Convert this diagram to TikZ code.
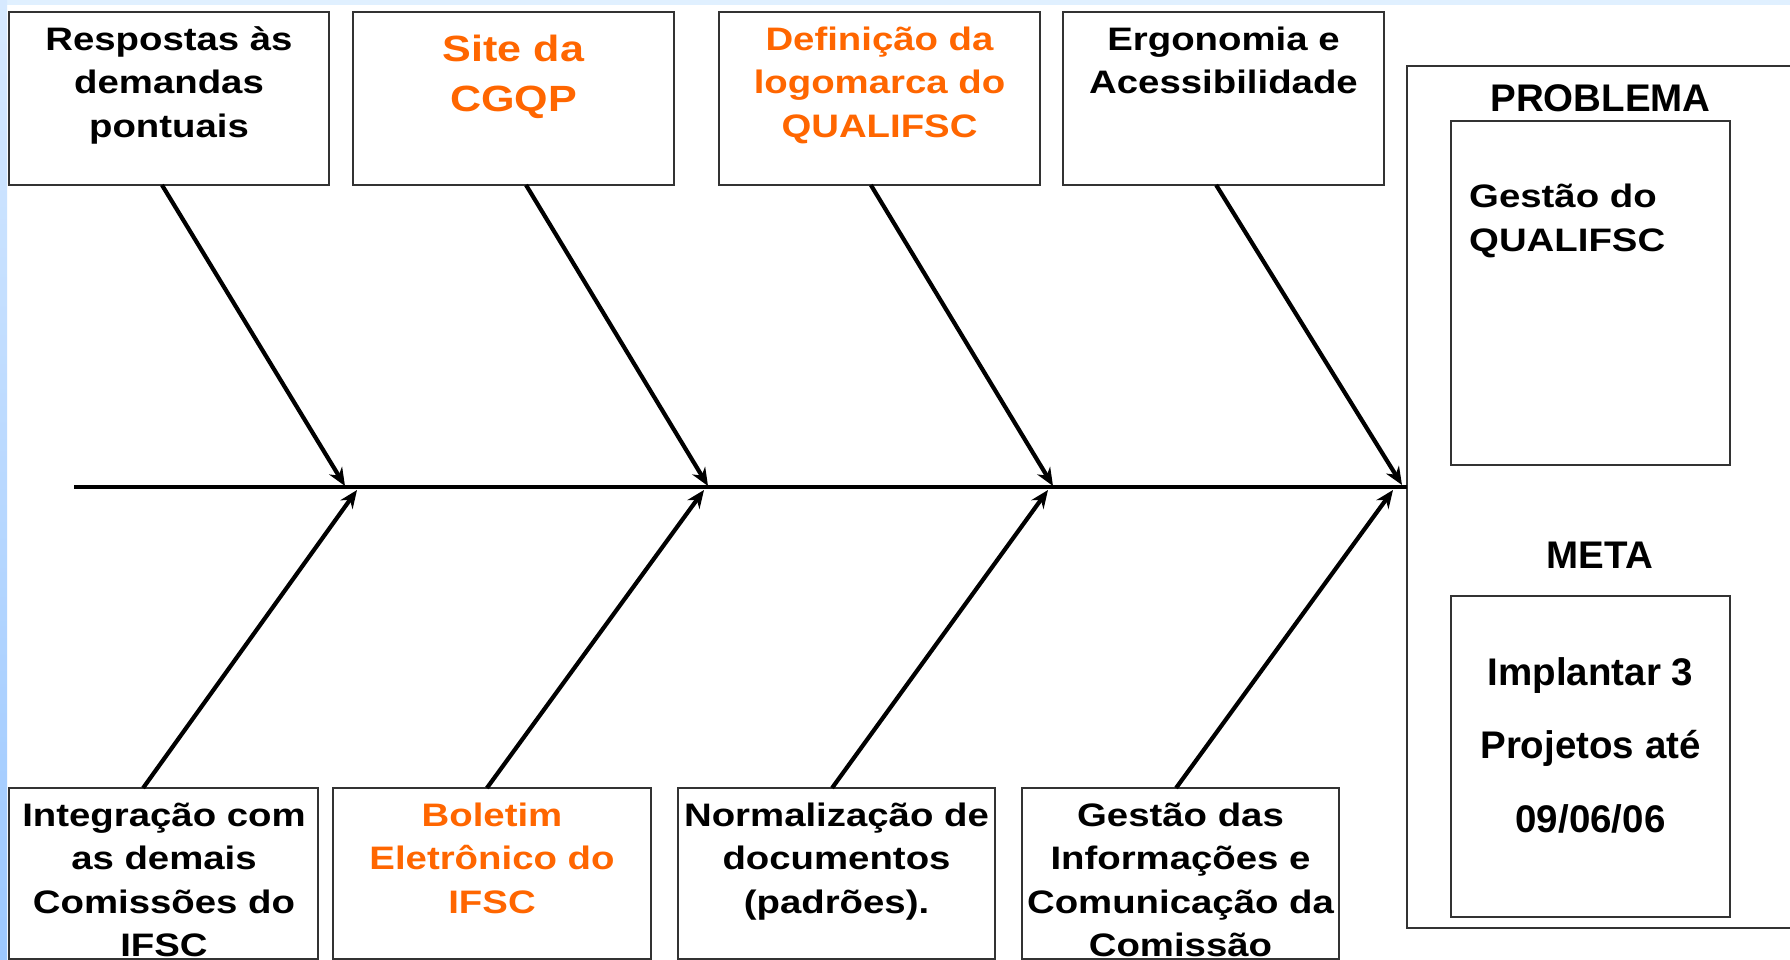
\documentclass[tikz,border=0pt]{standalone}
\usepackage{fontspec}
\setmainfont{Liberation Sans}
\newfontfamily\sfam{Liberation Sans}[FakeStretch=1.18]
\usetikzlibrary{calc,arrows.meta}
\definecolor{orng}{HTML}{FF6600}
\definecolor{edgec}{HTML}{333333}
\definecolor{topblue}{HTML}{E0F0FF}
\definecolor{sidetop}{HTML}{D6E9FF}
\definecolor{sidebot}{HTML}{9CC8FF}
\newcommand{\fstrut}{\rule{0pt}{0.85em}}
\begin{document}
\begin{tikzpicture}[x=1pt,y=-1pt,
  box/.style={draw=edgec, line width=2.5pt, fill=white, inner sep=0pt, outer sep=0pt, anchor=north west},
  txt/.style={font={\sfam\bfseries\fontsize{32.5}{43.5}\selectfont}, align=center, inner sep=0pt, anchor=north},
  bigtxt/.style={font={\sfam\bfseries\fontsize{36.5}{50}\selectfont}, align=center, inner sep=0pt, anchor=north, text=orng},
  lbl/.style={font={\bfseries\fontsize{38.5}{46}\selectfont}, inner sep=0pt, anchor=base},
  mtxt/.style={font={\bfseries\fontsize{38.5}{73.5}\selectfont}, align=center, inner sep=0pt, anchor=north},
  arr/.style={line width=4.2pt, -{Stealth[length=18pt,width=15pt]}},
  spine/.style={line width=4.5pt}]
\useasboundingbox (0,0) rectangle (1790,960);
\clip (0,0) rectangle (1790,960);
% background
\fill[white] (0,0) rectangle (1790,960);
\fill[topblue] (0,0) rectangle (1790,5);
\shade[top color=sidetop, bottom color=sidebot] (0,0) rectangle (7,960);
% top boxes
\node[box, minimum width=320, minimum height=173] (t1) at (9,12) {};
\node[box, minimum width=321, minimum height=173] (t2) at (353,12) {};
\node[box, minimum width=321, minimum height=173] (t3) at (719,12) {};
\node[box, minimum width=321, minimum height=173] (t4) at (1063,12) {};
% bottom boxes
\node[box, minimum width=309, minimum height=171] (c1) at (9,788) {};
\node[box, minimum width=318, minimum height=171] (c2) at (333,788) {};
\node[box, minimum width=317, minimum height=171] (c3) at (678,788) {};
\node[box, minimum width=317, minimum height=171] (c4) at (1022,788) {};
% right panel
\node[box, minimum width=423, minimum height=862] (pb) at (1407,66) {};
\node[box, minimum width=279, minimum height=344] (pp) at (1451,121) {};
\node[box, minimum width=279, minimum height=321] (mb) at (1451,596) {};
% texts
\node[txt] (tt1) at (169,22.4) {\fstrut Respostas às\\demandas\\pontuais};
\node[bigtxt] (tt2) at (513.5,30) {\fstrut Site da\\CGQP};
\node[txt, text=orng] (tt3) at (879.5,22.4) {\fstrut Definição da\\logomarca do\\QUALIFSC};
\node[txt] (tt4) at (1223.5,22.4) {\fstrut Ergonomia e\\Acessibilidade};
\node[txt] (ct1) at (164,798.4) {\fstrut Integração com\\as demais\\Comissões do\\IFSC};
\node[txt, text=orng] (ct2) at (492,798.4) {\fstrut Boletim\\Eletrônico do\\IFSC};
\node[txt] (ct3) at (836.5,798.4) {\fstrut Normalização de\\documentos\\(padrões).};
\node[txt] (ct4) at (1180.5,798.4) {\fstrut Gestão das\\Informações e\\Comunicação da\\Comissão};
\node[lbl] (ptitle) at (1600.5,112) {PROBLEMA};
\node[txt, align=left, anchor=north west] (ptext) at (1469,179.9) {\fstrut Gestão do\\QUALIFSC};
\node[lbl] (mtitle) at (1600,568.5) {META};
\node[mtxt] (mtext) at (1590.5,652.3) {\fstrut Implantar 3\\Projetos até\\09/06/06};
% spine
\coordinate (tail) at (74,487);
\draw[spine] (tail) -- (tail -| pb.west);
% arrow end points on the spine
\coordinate (s1) at (345,486);
\coordinate (s2) at (708,486);
\coordinate (s3) at (1053,486);
\coordinate (s4) at (1402,485);
\coordinate (r1) at (357,490);
\coordinate (r2) at (704,490);
\coordinate (r3) at (1048,490);
\coordinate (r4) at (1393,490);
\draw[arr] ($(t1.south west)!0.478!(t1.south east)$) -- (s1);
\draw[arr] ($(t2.south west)!0.539!(t2.south east)$) -- (s2);
\draw[arr] ($(t3.south west)!0.473!(t3.south east)$) -- (s3);
\draw[arr] ($(t4.south west)!0.477!(t4.south east)$) -- (s4);
\draw[arr] ($(c1.north west)!0.434!(c1.north east)$) -- (r1);
\draw[arr] ($(c2.north west)!0.484!(c2.north east)$) -- (r2);
\draw[arr] ($(c3.north west)!0.486!(c3.north east)$) -- (r3);
\draw[arr] ($(c4.north west)!0.486!(c4.north east)$) -- (r4);
\end{tikzpicture}
\end{document}
